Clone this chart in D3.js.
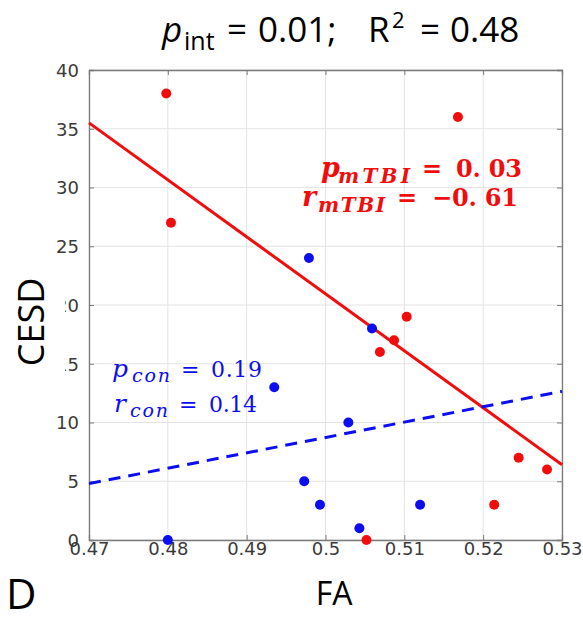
<!DOCTYPE html>
<html><head><meta charset="utf-8">
<script src="https://cdn.jsdelivr.net/npm/d3@7"></script>
<style>body{margin:0;background:#fff}svg{display:block}text{white-space:pre}</style>
</head><body>
<svg id="c" width="583" height="618"></svg>
<script>
const xTicks = [0.47, 0.48, 0.49, 0.50, 0.51, 0.52, 0.53];
const xTickLabels = ["0.47", "0.48", "0.49", "0.5", "0.51", "0.52", "0.53"];
const yTicks = [0, 5, 10, 15, 20, 25, 30, 35, 40];
const mtbiFA   = [0.4798, 0.4804, 0.5168, 0.5069, 0.5087, 0.5103, 0.5245, 0.5281, 0.5214, 0.5052];
const mtbiCESD = [38, 27, 36, 16, 17, 19, 7, 6, 3, 0];
const conFA    = [0.4800, 0.4979, 0.5059, 0.4935, 0.5029, 0.4973, 0.4993, 0.5120, 0.5043];
const conCESD  = [0, 24, 18, 13, 10, 5, 3, 3, 1];
const mtbiFitX = [0.47, 0.53];
const mtbiFitY = [35.5, 6.4];
const conFitX  = [0.47, 0.53];
const conFitY  = [4.8, 12.65];

const svg = d3.select("#c");
const L = 89, R = 562, T = 70, B = 540;
const x = d3.scaleLinear().domain([0.47, 0.53]).range([L, R]);
const y = d3.scaleLinear().domain([0, 40]).range([B, T]);
const red = "#f20d0d", blue = "#0d0df2";

// grid
const g = svg.append("g");
g.selectAll("line.gx").data(xTicks).join("line")
  .attr("x1", d => x(d)).attr("x2", d => x(d)).attr("y1", T).attr("y2", B)
  .attr("stroke", "#e4e4e4").attr("stroke-width", 1);
g.selectAll("line.gy").data(yTicks).join("line")
  .attr("y1", d => y(d)).attr("y2", d => y(d)).attr("x1", L).attr("x2", R)
  .attr("stroke", "#e4e4e4").attr("stroke-width", 1);

// axes
const xAx = svg.append("g").attr("transform", `translate(0,${B})`)
  .call(d3.axisBottom(x).tickValues(xTicks).tickFormat((d, i) => xTickLabels[i]).tickSize(-5).tickPadding(2));
const xAxT = svg.append("g").attr("transform", `translate(0,${T})`)
  .call(d3.axisTop(x).tickValues(xTicks).tickFormat("").tickSize(-5));
const yAx = svg.append("g").attr("transform", `translate(${L},0)`)
  .call(d3.axisLeft(y).tickValues(yTicks).tickSize(-5).tickPadding(10));
const yAxR = svg.append("g").attr("transform", `translate(${R},0)`)
  .call(d3.axisRight(y).tickValues(yTicks).tickFormat("").tickSize(-5));
[xAx, xAxT, yAx, yAxR].forEach(a => {
  a.selectAll("path").attr("stroke", "#7a7a7a").attr("stroke-width", 1.3);
  a.selectAll("line").attr("stroke", "#7a7a7a");
  a.selectAll("text").attr("fill", "#3a3a3a").style("font-family", "'DejaVu Sans', sans-serif").style("font-size", "18px");
});
yAx.selectAll("text").attr("dy", "0.36em");
xAx.selectAll("text").attr("dy", "0.72em");

// fit lines
const line = d3.line().x(d => x(d[0])).y(d => y(d[1]));
svg.append("path").datum(d3.zip(mtbiFitX, mtbiFitY)).attr("d", line)
  .attr("stroke", red).attr("stroke-width", 3).attr("fill", "none");
svg.append("path").datum(d3.zip(conFitX, conFitY)).attr("d", line)
  .attr("stroke", blue).attr("stroke-width", 3).attr("fill", "none").attr("stroke-dasharray", "12,8");

// points
svg.append("g").selectAll("circle").data(d3.zip(conFA, conCESD)).join("circle")
  .attr("cx", d => x(d[0])).attr("cy", d => y(d[1])).attr("r", 5).attr("fill", blue);
svg.append("g").selectAll("circle").data(d3.zip(mtbiFA, mtbiCESD)).join("circle")
  .attr("cx", d => x(d[0])).attr("cy", d => y(d[1])).attr("r", 5).attr("fill", red);

// title (tspans placed explicitly)
const title = svg.append("text").attr("y", 42)
  .style("font-family", "'Open Sans', sans-serif").style("font-size", "35px").attr("fill", "#000");
title.append("tspan").attr("x", 162).text("p").style("font-style", "italic");
title.append("tspan").attr("x", 184).attr("dy", 8).text("int").style("font-size", "25px");
title.append("tspan").attr("x", 227).attr("dy", -8).text("=");
title.append("tspan").attr("x", 258).text("0.01;");
title.append("tspan").attr("x", 368).text("R");
title.append("tspan").attr("x", 392).attr("dy", -14).text("2").style("font-size", "22px");
title.append("tspan").attr("x", 420).attr("dy", 14).text("=");
title.append("tspan").attr("x", 450).text("0.48");

// annotations: positions [letter, subscript, "=", value], widths [subscript, value]
function annot(xs, ws, yp, letter, sub, val, col, size, letterSize, subSize, bold) {
  const t = svg.append("text").attr("y", yp)
    .style("font-family", "'DejaVu Serif', 'Liberation Serif', serif").style("font-size", size + "px")
    .style("font-weight", bold ? "bold" : "normal").attr("fill", col);
  t.append("tspan").attr("x", xs[0]).text(letter).style("font-style", "italic").style("font-size", letterSize + "px");
  t.append("tspan").attr("x", xs[1]).text(sub).style("font-style", "italic").style("font-size", subSize + "px")
    .attr("dy", size * 0.24).attr("textLength", ws[0]).attr("lengthAdjust", "spacing");
  t.append("tspan").attr("x", xs[2]).text("=").attr("dy", -size * 0.24);
  t.append("tspan").attr("x", xs[3]).text(val).attr("textLength", ws[1]).attr("lengthAdjust", "spacing");
  return t;
}
annot([321, 338, 422, 456], [72, 66], 177, "p", "mTBI", "0. 03", red, 24, 27, 20, true);
annot([302, 318, 397, 432], [67, 86], 206, "r", "mTBI", "\u22120. 61", red, 24, 27, 20, true);
annot([112, 132, 181, 211], [38, 51], 377, "p", "con", "0.19", blue, 22, 25, 19, false);
annot([114, 130, 179, 209], [38, 48], 412, "r", "con", "0.14", blue, 22, 25, 19, false);

// axis labels
svg.append("rect").attr("x", 14).attr("y", 270).attr("width", 51).attr("height", 110).attr("fill", "#fff");
svg.append("text").attr("transform", "translate(44,322) rotate(-90)").attr("text-anchor", "middle")
  .style("font-family", "'Open Sans', sans-serif").style("font-size", "36px").text("CESD");
svg.append("text").attr("x", 334).attr("y", 605).attr("text-anchor", "middle")
  .style("font-family", "'Open Sans', sans-serif").style("font-size", "32px").text("FA");
svg.append("text").attr("x", 6).attr("y", 609)
  .style("font-family", "'Open Sans', sans-serif").style("font-size", "42px").text("D");
</script>
</body></html>
